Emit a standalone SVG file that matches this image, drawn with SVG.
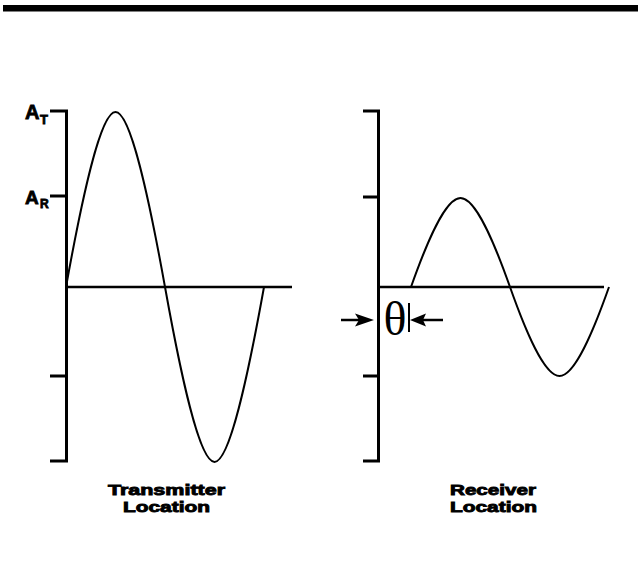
<svg xmlns="http://www.w3.org/2000/svg" width="638" height="586" viewBox="0 0 638 586">
<style>
.axis{stroke:#000;stroke-width:3;fill:none;stroke-linecap:butt}
.base{stroke:#000;stroke-width:2.5;fill:none}
.wave{stroke:#000;stroke-width:2;fill:none}
.lbl{font-family:"Liberation Sans",Arial,sans-serif;font-weight:bold;font-size:15px;fill:#000;stroke:#000;stroke-width:0.9}
.amp{font-family:"Liberation Sans",Arial,sans-serif;font-weight:bold;fill:#000;stroke:#000;stroke-width:0.8}
</style>
<rect x="3" y="5" width="635" height="6.5" fill="#000"/>
<g id="transmitter">
  <path class="axis" d="M50,111 H66.5 V461 H50 M50,196 H66.5 M50,376 H66.5"/>
  <path class="base" d="M66,287 H292"/>
  <path class="wave" d="M66,287 C82.14,197.35 100.37,112 115.5,112 C130.63,112 148.86,197.35 165,287 C181.14,376.65 199.37,462 214.5,462 C229.63,462 247.86,376.65 264,287"/>
  <text class="amp" x="25" y="119" font-size="20">A</text>
  <text class="amp" x="40" y="124" font-size="13">T</text>
  <text class="amp" x="25" y="204" font-size="19">A</text>
  <text class="amp" x="40" y="208" font-size="12">R</text>
  <text class="lbl" x="108" y="495" textLength="117" lengthAdjust="spacingAndGlyphs">Transmitter</text>
  <text class="lbl" x="123" y="512" textLength="87" lengthAdjust="spacingAndGlyphs">Location</text>
</g>
<g id="receiver">
  <path class="axis" d="M363,111 H378.5 V461 H363 M363,197 H378.5 M363,376 H378.5"/>
  <path class="base" d="M378,287 H604"/>
  <path class="wave" d="M411,287 C427.14,241.4 445.37,198 460.5,198 C475.63,198 493.86,241.4 510,287 C526.14,332.6 544.37,376 559.5,376 C574.63,376 592.86,332.6 609,287"/>
  <text class="lbl" x="450" y="495" textLength="86" lengthAdjust="spacingAndGlyphs">Receiver</text>
  <text class="lbl" x="450" y="512" textLength="87" lengthAdjust="spacingAndGlyphs">Location</text>
</g>
<g id="phase">
  <path d="M341,320 H360" stroke="#000" stroke-width="2.5"/>
  <path d="M374,320 L355,313.5 L359,320 L355,326.5 Z" fill="#000"/>
  <path d="M443,320 H422" stroke="#000" stroke-width="2.5"/>
  <path d="M410,320 L426,313.5 L423,320 L426,326.5 Z" fill="#000"/>
  <path d="M409,303 V332" stroke="#000" stroke-width="2"/>
  <text x="395" y="335" font-family="'Liberation Serif','Times New Roman',serif" font-size="48" text-anchor="middle">θ</text>
</g>
</svg>
